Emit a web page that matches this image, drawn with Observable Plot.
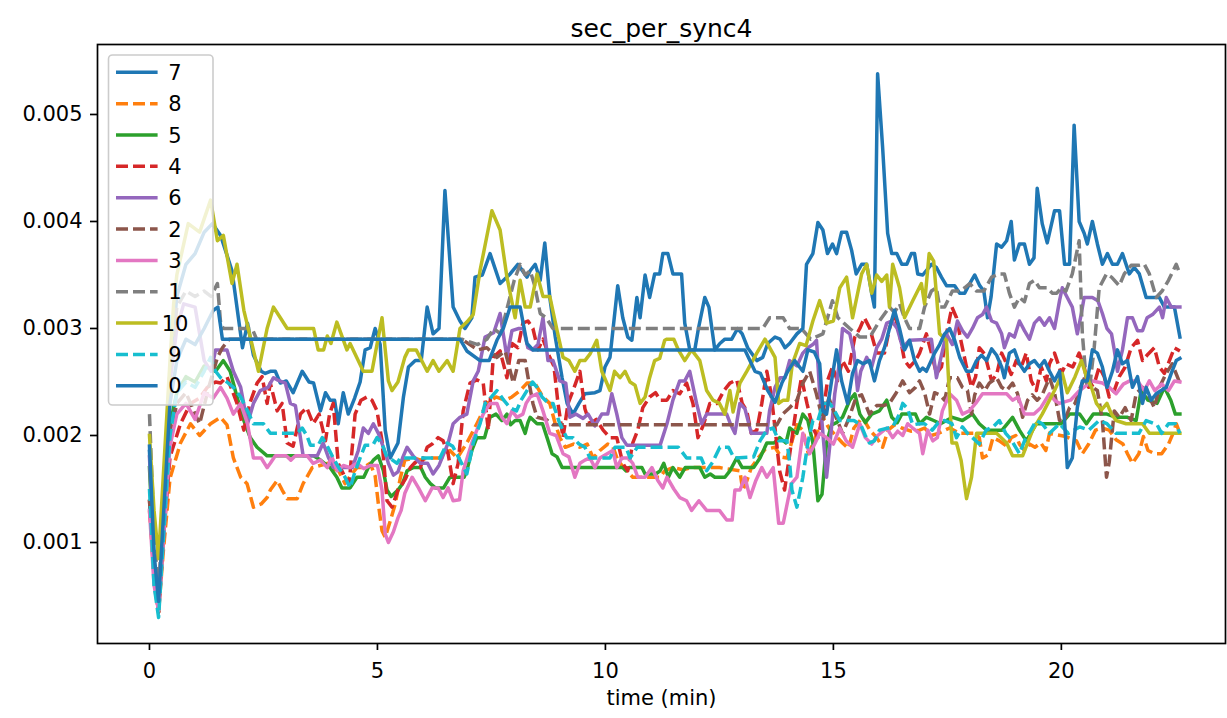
<!DOCTYPE html>
<html><head><meta charset="utf-8">
<script src="https://cdn.jsdelivr.net/npm/d3@7"></script>
<script src="https://cdn.jsdelivr.net/npm/@observablehq/plot@0.6"></script>
<style>body{margin:0;background:#fff;}</style>
</head><body><div id="chart"></div>
<script>
// legend order = draw order
const labels = ["7","8","5","4","6","2","3","1","10","9","0"];
const colors = ["#1f77b4","#ff7f0e","#2ca02c","#d62728","#9467bd","#8c564b","#e377c2","#7f7f7f","#bcbd22","#17becf","#1f77b4"];
const dashed = [false,true,false,true,false,true,false,true,false,true,false];
const xTicks = [0,5,10,15,20];
const yTicks = [0.001,0.002,0.003,0.004,0.005];
// values: [time (min), sec_per_sync4 in units of 0.001]
const s7 = [[0,1.85],[0.1,0.8],[0.2,0.4],[0.3,1.3],[0.45,2.6],[0.6,3.3],[0.8,3.6],[1.0,3.7],[1.2,3.9],[1.38,3.98],[1.56,3.87],[1.81,3.54],[1.95,3.1],[2.04,2.82],[2.15,3.05],[2.28,2.75],[2.45,2.6],[2.54,2.58],[2.65,2.6],[2.76,2.6],[2.87,2.49],[3.0,2.51],[3.15,2.4],[3.35,2.6],[3.5,2.5],[3.6,2.49],[3.75,2.23],[3.86,2.4],[3.96,2.33],[4.06,2.33],[4.14,2.11],[4.25,2.4],[4.36,2.2],[4.5,2.35],[4.62,2.5],[4.73,2.8],[4.84,2.82],[4.95,3.0],[5.06,2.85],[5.17,2.05],[5.28,1.79],[5.45,1.93],[5.57,2.36],[5.68,2.64],[5.83,2.7],[5.96,2.7],[6.09,3.2],[6.22,2.95],[6.35,3.0],[6.48,4.29],[6.66,3.2],[6.81,3.07],[6.92,3.0],[7.07,3.1],[7.14,3.48],[7.3,3.5],[7.47,3.7],[7.69,3.42],[7.91,3.51],[8.08,3.6],[8.28,3.48],[8.35,3.54],[8.46,3.6],[8.57,3.45],[8.67,3.8],[8.78,3.29],[8.9,2.92],[9.05,2.54],[9.16,2.3],[9.29,2.2],[9.42,2.3],[9.55,2.39],[9.77,2.4],[9.88,2.42],[9.99,2.64],[10.1,2.73],[10.27,3.4],[10.38,3.1],[10.49,2.92],[10.58,2.89],[10.69,3.29],[10.76,3.1],[10.87,3.5],[10.97,3.29],[11.08,3.51],[11.19,3.51],[11.26,3.7],[11.37,3.7],[11.48,3.51],[11.67,3.51],[11.74,3.05],[11.85,2.8],[11.96,2.8],[12.04,3.0],[12.18,3.29],[12.27,3.2],[12.4,2.8],[12.51,2.86],[12.62,2.9],[12.77,2.9],[12.9,3.0],[13.0,2.95],[13.12,2.82],[13.32,2.7],[13.45,2.73],[13.56,2.86],[13.72,2.92],[13.83,2.9],[13.94,2.82],[14.04,2.86],[14.2,2.95],[14.33,3.0],[14.41,3.6],[14.55,3.7],[14.66,3.99],[14.77,3.92],[14.87,3.7],[14.98,3.79],[15.07,3.7],[15.18,3.9],[15.29,3.9],[15.4,3.73],[15.5,3.51],[15.62,3.6],[15.73,3.6],[15.84,3.33],[15.9,3.2],[15.97,5.38],[16.08,4.69],[16.19,3.89],[16.28,3.7],[16.39,3.7],[16.5,3.6],[16.61,3.6],[16.71,3.7],[16.78,3.7],[16.85,3.51],[16.96,3.5],[17.15,3.6],[17.26,3.57],[17.37,3.48],[17.48,3.4],[17.66,3.4],[17.77,3.33],[17.88,3.33],[17.99,3.42],[18.1,3.5],[18.21,3.4],[18.3,3.35],[18.38,3.1],[18.46,3.3],[18.58,3.79],[18.69,3.76],[18.8,3.82],[18.9,4.0],[18.97,3.64],[19.08,3.79],[19.19,3.79],[19.3,3.6],[19.4,3.66],[19.47,4.31],[19.58,3.98],[19.69,3.8],[19.85,4.1],[19.96,4.1],[20.07,3.6],[20.18,3.6],[20.28,4.9],[20.39,4.0],[20.5,3.89],[20.57,3.79],[20.68,4.0],[20.79,3.79],[20.9,3.6],[21.01,3.7],[21.12,3.6],[21.23,3.6],[21.34,3.7],[21.49,3.51],[21.6,3.57],[21.71,3.51],[21.86,3.29],[22.15,3.29],[22.26,3.2],[22.48,3.2],[22.6,2.92]];
const s8 = [[0,1.3],[0.1,0.7],[0.2,0.35],[0.3,0.9],[0.45,1.6],[0.68,1.93],[0.9,2.11],[1.1,2.0],[1.34,2.11],[1.56,2.17],[1.7,2.1],[1.84,1.79],[2.0,1.61],[2.14,1.55],[2.28,1.33],[2.45,1.36],[2.58,1.42],[2.65,1.49],[2.8,1.58],[2.91,1.49],[3.02,1.41],[3.24,1.41],[3.37,1.55],[3.57,1.7],[3.92,1.74],[4.03,1.69],[4.15,1.67],[4.29,1.55],[4.4,1.62],[4.55,1.7],[4.69,1.7],[4.84,1.74],[4.95,1.62],[5.02,1.36],[5.1,1.11],[5.17,1.05],[5.28,1.2],[5.39,1.36],[5.5,1.6],[5.6,1.77],[5.8,1.79],[5.95,1.77],[6.09,1.79],[6.4,1.79],[6.59,1.86],[6.75,1.79],[6.96,1.93],[7.18,2.11],[7.4,2.3],[7.6,2.36],[7.8,2.33],[7.95,2.36],[8.13,2.42],[8.28,2.49],[8.45,2.49],[8.63,2.36],[8.78,2.3],[8.9,2.11],[9.0,1.98],[9.12,1.89],[9.3,1.92],[9.44,1.89],[9.6,1.92],[9.73,1.79],[9.88,1.86],[10.05,1.92],[10.16,1.9],[10.27,1.77],[10.4,1.7],[10.6,1.61],[11.2,1.61],[11.3,1.67],[11.48,1.7],[11.7,1.68],[11.9,1.7],[12.5,1.7],[12.95,1.67],[13.01,1.49],[13.08,1.55],[13.2,1.7],[13.35,1.79],[13.5,1.87],[13.72,1.89],[13.85,1.8],[13.98,1.79],[14.08,1.93],[14.2,2.1],[14.33,2.05],[14.45,1.83],[14.55,1.92],[14.77,2.17],[14.9,2.07],[15.05,2.0],[15.2,1.93],[15.33,1.88],[15.45,2.07],[15.64,2.17],[15.8,2.05],[15.95,1.98],[16.08,1.89],[16.2,2.05],[16.34,2.1],[16.5,2.07],[16.7,2.04],[16.89,2.05],[17.0,2.07],[17.15,2.0],[17.3,2.02],[17.55,2.07],[17.77,2.02],[18.1,2.02],[18.2,1.98],[18.27,1.79],[18.4,1.82],[18.5,1.98],[18.64,1.95],[18.8,1.9],[18.9,1.98],[19.0,2.0],[19.08,1.92],[19.19,1.86],[19.3,1.92],[19.42,1.89],[19.55,1.93],[19.66,1.86],[19.74,2.02],[20.1,1.99],[20.33,1.95],[20.46,1.83],[20.6,1.92],[20.75,2.05],[20.9,2.07],[21.05,2.05],[21.2,1.96],[21.35,1.92],[21.45,1.83],[21.56,1.74],[21.7,1.83],[21.8,1.99],[21.9,1.86],[22.05,1.83],[22.2,1.83],[22.35,1.92],[22.45,2.02],[22.52,2.11],[22.6,2.02]];
const s5 = [[0,1.7],[0.1,0.8],[0.2,0.4],[0.3,1.2],[0.45,2.1],[0.6,2.4],[0.8,2.55],[1.0,2.5],[1.2,2.65],[1.45,2.6],[1.62,2.7],[1.77,2.6],[1.92,2.36],[2.07,2.14],[2.21,1.98],[2.36,1.89],[2.58,1.81],[3.6,1.81],[3.75,1.77],[3.96,1.7],[4.11,1.61],[4.22,1.51],[4.4,1.51],[4.55,1.61],[4.7,1.61],[4.8,1.7],[4.91,1.77],[5.02,1.81],[5.13,1.67],[5.21,1.49],[5.3,1.43],[5.45,1.49],[5.55,1.55],[5.65,1.67],[5.78,1.7],[5.95,1.7],[6.05,1.61],[6.16,1.55],[6.27,1.51],[6.45,1.51],[6.59,1.61],[6.9,1.61],[6.96,1.67],[7.07,1.86],[7.18,1.98],[7.35,1.98],[7.47,2.17],[7.6,2.2],[7.73,2.14],[7.84,2.2],[7.92,2.1],[8.02,2.14],[8.13,2.14],[8.24,2.02],[8.3,2.12],[8.35,2.17],[8.5,2.11],[8.62,2.11],[8.72,1.98],[8.83,1.83],[8.94,1.8],[9.05,1.7],[10.38,1.7],[10.45,1.67],[10.52,1.7],[10.8,1.7],[10.87,1.64],[11.1,1.64],[11.2,1.67],[11.28,1.74],[11.38,1.61],[11.48,1.7],[11.63,1.61],[11.75,1.7],[12.07,1.7],[12.18,1.61],[12.3,1.64],[12.4,1.61],[12.62,1.61],[12.73,1.67],[12.88,1.79],[13.0,1.7],[13.25,1.7],[13.39,1.79],[13.54,1.93],[13.7,1.93],[13.82,1.98],[13.96,1.93],[14.04,2.07],[14.2,2.02],[14.33,2.2],[14.44,2.14],[14.55,1.93],[14.66,1.39],[14.75,1.45],[14.85,1.93],[14.96,2.1],[15.07,2.12],[15.2,2.17],[15.36,2.33],[15.47,2.39],[15.58,2.2],[15.7,2.12],[15.84,2.2],[16.01,2.23],[16.17,2.33],[16.28,2.17],[16.4,2.12],[16.5,2.2],[16.63,2.2],[16.8,2.2],[16.89,2.11],[17.04,2.17],[17.2,2.14],[17.35,2.11],[17.48,2.14],[17.61,2.17],[17.83,2.14],[18.05,2.2],[18.2,2.11],[18.36,2.05],[18.7,2.05],[18.93,2.17],[19.08,2.05],[19.23,1.95],[19.33,2.02],[19.45,2.11],[20.0,2.11],[20.18,2.2],[20.4,2.2],[20.55,2.11],[20.7,2.2],[21.0,2.2],[21.2,2.17],[21.45,2.17],[21.64,2.14],[21.75,2.42],[21.9,2.33],[22.1,2.3],[22.26,2.45],[22.4,2.33],[22.5,2.2],[22.6,2.2]];
const s4 = [[0,1.4],[0.1,0.7],[0.2,0.35],[0.3,1.0],[0.45,1.8],[0.68,2.11],[0.9,2.3],[1.1,2.35],[1.27,2.45],[1.45,2.5],[1.56,2.49],[1.7,2.55],[1.92,2.3],[2.07,2.05],[2.2,2.3],[2.36,2.49],[2.47,2.55],[2.58,2.3],[2.65,2.49],[2.8,2.23],[2.91,2.3],[3.02,1.93],[3.15,1.9],[3.31,2.2],[3.45,2.26],[3.59,2.11],[3.72,2.2],[3.86,1.95],[3.95,2.2],[4.03,2.3],[4.14,1.74],[4.29,1.61],[4.38,1.55],[4.51,2.2],[4.64,2.33],[4.77,2.36],[4.88,2.33],[4.99,2.23],[5.1,1.95],[5.21,1.39],[5.32,1.33],[5.45,1.49],[5.55,1.55],[5.62,1.6],[5.72,1.7],[5.83,1.75],[5.94,1.7],[6.09,1.89],[6.2,1.92],[6.33,1.98],[6.44,1.95],[6.55,1.83],[6.66,1.55],[6.77,1.74],[6.88,2.23],[7.03,2.49],[7.18,2.52],[7.32,2.49],[7.43,2.05],[7.54,2.73],[7.69,2.79],[7.84,2.54],[7.95,2.86],[8.08,2.82],[8.19,3.05],[8.3,3.07],[8.41,3.0],[8.52,2.8],[8.63,2.9],[8.78,2.73],[8.87,2.65],[8.96,2.3],[9.07,1.98],[9.18,2.3],[9.29,2.42],[9.44,2.6],[9.55,2.25],[9.66,2.11],[9.8,2.15],[9.95,2.05],[10.1,1.98],[10.25,1.98],[10.38,1.74],[10.49,1.67],[10.6,1.93],[10.71,2.05],[10.82,2.26],[10.97,2.36],[11.1,2.4],[11.2,2.33],[11.35,2.33],[11.48,2.42],[11.63,2.39],[11.78,2.49],[11.92,2.3],[12.03,1.98],[12.15,2.1],[12.29,2.3],[12.45,2.3],[12.6,2.42],[12.73,2.49],[12.88,2.52],[13.0,2.3],[13.1,2.23],[13.2,2.02],[13.32,2.05],[13.43,2.3],[13.54,2.6],[13.63,2.4],[13.72,2.07],[13.82,1.67],[13.93,1.49],[14.0,1.7],[14.1,2.0],[14.2,2.3],[14.3,2.54],[14.42,2.3],[14.55,2.07],[14.66,1.98],[14.77,2.2],[14.87,2.51],[14.98,2.64],[15.09,2.51],[15.2,2.7],[15.33,2.6],[15.47,2.92],[15.58,3.0],[15.68,3.1],[15.8,3.0],[15.95,2.77],[16.12,2.77],[16.23,3.0],[16.34,3.14],[16.45,2.95],[16.56,2.7],[16.67,2.64],[16.8,2.7],[16.89,2.77],[17.04,2.95],[17.15,2.77],[17.26,2.58],[17.37,2.64],[17.48,2.95],[17.6,3.2],[17.7,3.1],[17.8,2.88],[17.92,2.64],[18.03,2.45],[18.12,2.55],[18.2,2.82],[18.32,2.76],[18.47,2.51],[18.58,2.57],[18.69,2.77],[18.8,2.67],[18.9,2.57],[19.01,2.7],[19.12,2.64],[19.23,2.77],[19.34,2.51],[19.45,2.42],[19.56,2.64],[19.67,2.51],[19.74,2.67],[19.85,2.77],[20.0,2.58],[20.1,2.67],[20.25,2.64],[20.39,2.77],[20.5,2.64],[20.6,2.45],[20.72,2.48],[20.83,2.64],[20.94,2.55],[21.05,2.36],[21.16,2.42],[21.27,2.55],[21.4,2.64],[21.53,2.82],[21.67,2.89],[21.78,2.7],[21.9,2.76],[22.04,2.82],[22.15,2.64],[22.26,2.58],[22.37,2.7],[22.48,2.82],[22.6,2.79]];
const s6 = [[0,1.8],[0.1,0.8],[0.2,0.4],[0.3,1.3],[0.45,2.5],[0.6,3.0],[0.75,3.23],[1.0,3.2],[1.2,2.7],[1.35,2.6],[1.45,2.8],[1.56,2.8],[1.7,2.8],[1.84,2.6],[2.0,2.45],[2.15,2.11],[2.28,2.3],[2.43,2.42],[2.6,2.45],[2.72,2.54],[2.8,2.52],[2.98,2.49],[3.09,2.3],[3.2,2.28],[3.31,1.98],[3.37,1.81],[3.68,1.81],[3.81,1.93],[3.92,1.8],[4.03,1.7],[4.45,1.7],[4.58,1.86],[4.69,2.07],[4.8,2.02],[4.91,2.11],[5.02,2.02],[5.13,1.89],[5.24,1.74],[5.35,1.63],[5.45,1.66],[5.56,1.8],[5.65,1.89],[5.8,1.8],[5.94,1.74],[6.1,1.74],[6.22,1.64],[6.35,1.72],[6.55,1.93],[6.66,2.11],[6.81,2.17],[6.96,2.2],[7.1,2.51],[7.21,2.6],[7.36,2.92],[7.55,2.96],[7.69,3.14],[7.84,2.73],[7.95,2.98],[8.1,3.0],[8.2,3.0],[8.3,2.82],[8.4,2.8],[8.52,2.85],[8.63,3.1],[8.74,2.7],[8.85,2.7],[9.0,2.51],[9.13,2.49],[9.22,2.17],[9.35,2.2],[9.51,2.16],[9.62,2.2],[9.77,2.09],[9.92,2.2],[10.05,2.2],[10.14,2.39],[10.25,2.2],[10.36,1.98],[10.47,1.91],[11.2,1.91],[11.35,2.11],[11.48,2.33],[11.63,2.51],[11.74,2.51],[11.85,2.6],[12.0,2.3],[12.11,2.11],[12.22,2.2],[12.5,2.2],[12.66,2.2],[12.75,2.1],[12.84,2.02],[12.95,2.3],[13.06,2.25],[13.2,2.02],[13.54,2.02],[13.6,2.23],[13.72,2.45],[13.83,2.54],[13.94,2.54],[14.04,2.7],[14.2,2.65],[14.33,2.77],[14.44,2.82],[14.55,2.85],[14.63,2.89],[14.7,2.39],[14.77,2.02],[14.85,1.61],[14.92,1.9],[15.03,2.39],[15.14,2.7],[15.2,3.0],[15.36,2.95],[15.45,2.78],[15.53,2.42],[15.6,2.6],[15.73,2.73],[15.84,2.64],[15.95,2.82],[16.06,2.9],[16.17,3.05],[16.28,3.07],[16.4,3.0],[16.52,2.82],[16.67,2.89],[17.15,2.9],[17.26,2.54],[17.37,2.75],[17.48,2.95],[17.61,2.85],[17.72,3.07],[17.83,2.98],[17.94,2.92],[18.05,3.0],[18.16,3.1],[18.27,3.13],[18.36,3.2],[18.47,3.07],[18.58,3.05],[18.69,2.95],[18.75,2.82],[18.86,2.95],[18.97,2.92],[19.08,3.07],[19.19,2.98],[19.3,2.9],[19.41,3.05],[19.52,3.1],[19.63,3.03],[19.74,3.1],[19.85,3.0],[19.96,3.26],[20.02,3.38],[20.13,3.29],[20.24,3.2],[20.35,2.95],[20.42,3.1],[20.5,3.29],[20.68,3.29],[20.8,3.26],[20.9,3.14],[21.0,3.0],[21.1,2.95],[21.16,2.8],[21.23,2.6],[21.34,2.8],[21.45,3.1],[21.56,3.1],[21.67,2.98],[21.78,2.98],[21.88,3.1],[22.0,3.13],[22.15,3.2],[22.22,3.1],[22.3,3.29],[22.41,3.2],[22.6,3.2]];
const s2 = [[0,1.4],[0.1,0.7],[0.2,0.35],[0.3,1.1],[0.45,2.0],[0.6,2.3],[0.8,2.4],[1.0,2.2],[1.1,2.11],[1.3,2.45],[1.49,2.73],[1.6,2.82],[1.75,2.9],[6.85,2.9],[7.2,2.8],[7.4,2.82],[7.62,2.73],[7.8,2.79],[7.98,2.49],[8.1,2.7],[8.24,2.7],[8.3,2.55],[8.41,2.3],[8.5,2.17],[8.7,2.15],[8.85,2.1],[13.76,2.1],[13.89,2.2],[14.04,2.26],[14.2,2.33],[14.33,2.49],[14.48,2.6],[14.62,2.4],[14.77,2.14],[14.9,2.35],[15.03,2.2],[15.2,2.02],[15.33,2.15],[15.5,2.36],[15.62,2.38],[15.79,2.2],[15.95,2.28],[16.1,2.28],[16.23,2.3],[16.38,2.4],[16.52,2.51],[16.67,2.4],[16.8,2.45],[16.89,2.51],[17.0,2.4],[17.11,2.2],[17.22,2.4],[17.33,2.38],[17.44,2.33],[17.55,2.54],[17.72,2.54],[17.83,2.45],[17.94,2.42],[18.03,2.2],[18.1,2.38],[18.2,2.49],[18.32,2.42],[18.42,2.49],[18.58,2.54],[18.69,2.45],[18.8,2.42],[18.93,2.49],[19.04,2.39],[19.15,2.17],[19.26,2.33],[19.36,2.38],[19.47,2.33],[19.58,2.38],[19.69,2.49],[19.74,2.54],[19.85,2.4],[19.96,2.14],[20.07,2.14],[20.18,2.26],[20.3,2.3],[20.42,2.45],[20.55,2.58],[20.68,2.45],[20.79,2.42],[20.9,2.14],[20.99,1.61],[21.05,1.75],[21.16,2.23],[21.27,2.17],[21.4,2.26],[21.53,2.14],[21.64,2.39],[21.78,2.45],[21.93,2.36],[22.04,2.26],[22.15,2.45],[22.3,2.58],[22.43,2.67],[22.6,2.49]];
const s3 = [[0,1.3],[0.1,0.6],[0.2,0.36],[0.3,1.0],[0.45,1.9],[0.6,2.2],[0.8,2.3],[1.0,2.15],[1.2,2.4],[1.4,2.35],[1.56,2.45],[1.7,2.35],[1.84,2.2],[2.0,2.3],[2.15,2.11],[2.28,1.79],[2.45,1.79],[2.58,1.7],[2.65,1.74],[2.76,1.81],[3.0,1.81],[3.1,1.77],[3.2,1.81],[3.46,1.81],[3.59,1.74],[3.75,1.77],[3.9,1.7],[4.0,1.8],[4.12,1.67],[4.25,1.72],[4.4,1.7],[4.55,1.74],[4.7,1.69],[4.84,1.72],[5.0,1.72],[5.1,1.49],[5.17,1.08],[5.24,1.0],[5.35,1.1],[5.45,1.23],[5.52,1.3],[5.6,1.46],[5.76,1.61],[5.9,1.51],[6.05,1.39],[6.2,1.51],[6.33,1.51],[6.44,1.42],[6.55,1.51],[6.66,1.39],[6.8,1.4],[6.88,1.67],[7.07,1.93],[7.18,2.05],[7.32,2.2],[7.47,2.3],[7.62,2.3],[7.73,2.17],[7.84,2.11],[7.95,2.23],[8.06,2.17],[8.19,2.2],[8.26,2.3],[8.35,2.36],[8.5,2.39],[8.63,2.23],[8.78,2.02],[8.92,2.0],[9.07,1.83],[9.2,1.8],[9.33,1.61],[9.44,1.74],[9.55,1.77],[9.66,1.79],[9.77,1.7],[9.88,1.79],[10.16,1.86],[10.25,1.7],[10.36,1.79],[10.5,1.79],[10.6,1.74],[10.71,1.61],[10.87,1.61],[11.02,1.7],[11.15,1.58],[11.26,1.51],[11.35,1.61],[11.5,1.5],[11.63,1.42],[11.78,1.39],[11.89,1.3],[12.05,1.39],[12.22,1.3],[12.5,1.3],[12.66,1.21],[12.78,1.21],[12.84,1.49],[12.95,1.49],[13.06,1.61],[13.17,1.42],[13.3,1.58],[13.43,1.7],[13.54,1.61],[13.68,1.7],[13.8,1.18],[13.9,1.18],[14.0,1.39],[14.08,1.55],[14.2,1.61],[14.33,2.02],[14.48,1.83],[14.59,1.92],[14.7,2.02],[14.85,1.98],[15.0,1.92],[15.14,2.07],[15.28,1.95],[15.42,1.89],[15.58,2.11],[15.7,1.98],[15.84,1.92],[15.97,2.0],[16.17,2.07],[16.3,1.98],[16.41,2.04],[16.52,2.0],[16.63,2.11],[16.74,2.07],[16.89,2.02],[16.96,1.83],[17.07,2.05],[17.18,1.95],[17.28,1.98],[17.39,2.23],[17.55,2.39],[17.7,2.33],[17.83,2.2],[17.98,2.23],[18.12,2.3],[18.27,2.39],[18.6,2.39],[18.8,2.39],[18.93,2.33],[19.05,2.36],[19.19,2.2],[19.4,2.2],[19.55,2.26],[19.74,2.39],[19.85,2.33],[19.96,2.3],[20.2,2.33],[20.4,2.42],[20.68,2.51],[20.9,2.49],[21.05,2.45],[21.2,2.39],[21.36,2.48],[21.5,2.51],[21.67,2.51],[21.82,2.42],[21.93,2.51],[22.05,2.42],[22.2,2.48],[22.35,2.42],[22.48,2.51],[22.6,2.5]];
const s1 = [[0,2.2],[0.1,1.1],[0.2,0.5],[0.3,1.4],[0.45,2.6],[0.6,3.2],[0.8,3.35],[1.0,3.3],[1.2,3.35],[1.35,3.3],[1.49,3.42],[1.56,3.05],[1.62,3.0],[2.25,3.0],[2.35,2.9],[6.85,2.9],[7.2,2.85],[7.4,2.9],[7.55,3.0],[7.7,2.95],[7.85,3.2],[8.0,3.45],[8.13,3.6],[8.24,3.5],[8.35,3.54],[8.45,3.4],[8.57,3.14],[8.7,3.1],[8.85,3.0],[13.45,3.0],[13.6,3.1],[13.9,3.1],[14.04,3.0],[14.3,3.0],[14.5,2.9],[14.77,2.95],[14.98,3.26],[15.1,3.1],[15.36,3.0],[15.58,2.92],[15.8,2.92],[16.01,3.07],[16.23,3.2],[16.34,3.15],[16.45,3.23],[16.56,3.1],[16.67,3.0],[16.89,3.0],[17.0,3.2],[17.15,3.35],[17.26,3.38],[17.33,3.2],[17.44,3.2],[17.61,3.35],[17.77,3.35],[17.88,3.38],[17.99,3.42],[18.14,3.35],[18.3,3.35],[18.47,3.48],[18.64,3.51],[18.75,3.51],[18.86,3.33],[18.97,3.2],[19.08,3.29],[19.19,3.25],[19.3,3.42],[19.41,3.45],[19.52,3.38],[19.69,3.38],[19.8,3.33],[19.9,3.33],[20.0,3.38],[20.1,3.35],[20.24,3.51],[20.39,3.82],[20.46,2.95],[20.55,2.49],[20.62,2.45],[20.72,2.82],[20.83,3.38],[20.99,3.51],[21.1,3.48],[21.27,3.4],[21.38,3.51],[21.53,3.59],[21.7,3.59],[21.82,3.6],[21.93,3.51],[22.08,3.29],[22.21,3.35],[22.35,3.45],[22.52,3.6],[22.6,3.51]];
const s10 = [[0,2.0],[0.1,1.3],[0.2,0.85],[0.3,1.6],[0.45,2.7],[0.53,3.23],[0.6,3.5],[0.85,3.98],[1.1,3.9],[1.34,4.2],[1.49,3.82],[1.62,3.87],[1.81,3.42],[1.92,3.6],[2.07,3.17],[2.39,2.6],[2.58,3.0],[2.72,3.2],[2.87,3.1],[3.02,3.0],[3.6,3.0],[3.7,2.8],[3.82,2.8],[3.9,2.93],[3.98,2.86],[4.11,3.06],[4.33,2.8],[4.4,2.86],[4.69,2.6],[4.88,2.6],[5.1,3.1],[5.24,2.51],[5.32,2.42],[5.45,2.5],[5.6,2.73],[5.68,2.8],[5.85,2.8],[6.09,2.6],[6.22,2.7],[6.35,2.6],[6.53,2.7],[6.66,2.6],[6.81,3.0],[6.96,3.06],[7.1,3.13],[7.25,3.54],[7.51,4.1],[7.69,3.92],[7.84,3.48],[8.02,3.1],[8.13,3.45],[8.24,3.2],[8.35,3.2],[8.5,3.51],[8.63,3.3],[8.78,3.3],[8.94,2.98],[9.07,2.73],[9.2,2.7],[9.33,2.6],[9.44,2.7],[9.55,2.7],[9.66,2.76],[9.81,2.89],[9.92,2.6],[10.1,2.42],[10.2,2.6],[10.32,2.54],[10.43,2.6],[10.54,2.5],[10.65,2.47],[10.76,2.3],[10.87,2.36],[10.97,2.54],[11.08,2.7],[11.19,2.72],[11.3,2.89],[11.35,2.9],[11.5,2.9],[11.6,2.8],[11.74,2.7],[11.89,2.8],[12.07,2.7],[12.22,2.42],[12.36,2.33],[12.5,2.3],[12.62,2.2],[12.73,2.42],[12.8,2.22],[12.95,2.49],[13.1,2.6],[13.32,2.77],[13.5,2.9],[13.72,2.73],[13.8,2.3],[13.9,2.33],[14.0,2.33],[14.1,2.67],[14.26,2.86],[14.4,2.84],[14.55,3.07],[14.7,3.26],[14.85,3.05],[15.0,3.07],[15.14,3.38],[15.29,3.48],[15.42,3.1],[15.62,3.51],[15.73,3.6],[15.84,3.33],[15.95,3.5],[16.06,3.44],[16.17,3.5],[16.23,3.2],[16.3,3.6],[16.45,3.38],[16.56,3.1],[16.74,3.26],[16.93,3.42],[17.0,3.23],[17.1,3.7],[17.2,3.63],[17.33,2.95],[17.48,2.89],[17.6,1.93],[17.7,1.93],[17.8,1.77],[17.92,1.41],[18.03,1.61],[18.14,2.02],[18.58,2.02],[18.8,1.93],[18.93,1.81],[19.15,1.81],[19.37,2.05],[19.58,2.2],[19.74,2.33],[19.85,2.42],[20.02,2.58],[20.13,2.4],[20.3,2.55],[20.44,2.7],[20.55,2.55],[20.66,2.45],[20.77,2.3],[20.88,2.24],[21.0,2.3],[21.1,2.2],[21.2,2.14],[21.42,2.11],[21.78,2.11],[21.93,2.02],[22.6,2.02]];
const s9 = [[0,1.5],[0.1,0.6],[0.2,0.3],[0.3,1.0],[0.45,2.0],[0.6,2.4],[0.8,2.5],[1.0,2.45],[1.2,2.6],[1.34,2.73],[1.45,2.6],[1.56,2.54],[1.7,2.5],[1.84,2.45],[2.0,2.36],[2.15,2.23],[2.28,2.11],[2.5,2.11],[2.65,2.02],[3.24,2.02],[3.35,2.07],[3.45,2.0],[3.53,1.91],[3.7,1.91],[3.79,1.98],[3.9,1.9],[4.03,1.79],[4.15,1.7],[4.29,1.61],[4.4,1.51],[4.5,1.65],[4.62,1.79],[4.73,1.91],[4.9,1.91],[4.99,1.98],[5.1,1.92],[5.2,1.81],[5.3,1.78],[5.43,1.74],[5.5,1.79],[6.37,1.79],[6.53,1.93],[6.65,1.9],[6.81,1.77],[6.96,1.64],[7.1,1.93],[7.25,2.11],[7.36,2.3],[7.5,2.36],[7.62,2.42],[7.77,2.33],[7.91,2.26],[8.05,2.23],[8.15,2.33],[8.28,2.42],[8.4,2.5],[8.5,2.45],[8.61,2.36],[8.75,2.3],[8.85,2.3],[9.0,2.11],[9.15,1.98],[9.29,1.98],[9.42,1.92],[9.55,1.89],[9.66,1.79],[10.1,1.79],[10.21,1.89],[10.45,1.89],[10.54,1.79],[10.7,1.89],[11.2,1.89],[11.6,1.89],[11.78,1.79],[12.1,1.79],[12.22,1.67],[12.35,1.75],[12.51,1.89],[12.7,1.89],[12.82,1.79],[13.25,1.8],[13.39,1.95],[13.54,2.05],[13.68,2.07],[13.8,1.95],[13.98,1.95],[14.04,1.75],[14.09,1.49],[14.2,1.33],[14.33,1.61],[14.44,1.93],[14.55,2.14],[14.66,2.14],[14.77,2.3],[14.92,2.3],[15.0,2.25],[15.14,2.14],[15.45,2.14],[15.6,2.1],[15.7,2.0],[15.79,1.93],[15.9,1.95],[16.01,2.05],[16.3,2.08],[16.45,2.2],[16.52,2.3],[16.63,2.25],[16.74,2.1],[16.89,2.11],[17.0,2.11],[17.17,2.05],[17.3,2.12],[17.44,2.14],[17.6,2.11],[17.7,1.98],[17.83,2.08],[17.94,2.02],[18.05,1.98],[18.2,1.92],[18.35,2.05],[18.5,2.08],[18.64,2.14],[18.78,2.02],[18.9,1.96],[19.08,1.83],[19.2,1.96],[19.33,2.05],[19.45,2.14],[19.58,2.11],[19.74,2.02],[19.96,2.11],[20.15,2.02],[20.4,2.08],[20.6,2.05],[20.83,2.14],[21.0,2.11],[21.2,2.02],[21.5,2.02],[21.7,2.02],[21.86,2.14],[22.1,2.1],[22.2,2.02],[22.35,2.11],[22.5,2.11],[22.6,2.02]];
const s0 = [[0,1.9],[0.1,0.9],[0.2,0.45],[0.3,1.2],[0.45,2.3],[0.6,2.7],[0.8,2.9],[1.0,2.85],[1.2,3.0],[1.4,3.17],[1.5,3.2],[1.6,2.9],[6.81,2.9],[6.96,2.79],[7.25,2.7],[7.45,2.7],[7.62,2.89],[7.76,3.0],[7.91,3.2],[8.13,3.2],[8.28,2.86],[8.41,2.8],[13.06,2.8],[13.28,2.6],[13.4,2.58],[13.56,2.42],[13.72,2.31],[13.87,2.49],[14.0,2.6],[14.15,2.7],[14.33,2.6],[14.44,2.8],[14.58,2.78],[14.7,2.67],[14.77,2.23],[14.85,2.2],[14.96,2.51],[15.07,2.8],[15.18,2.51],[15.31,2.3],[15.42,2.58],[15.53,2.7],[15.65,2.67],[15.79,2.7],[15.9,2.51],[16.01,2.7],[16.12,2.82],[16.23,3.0],[16.34,3.17],[16.45,3.0],[16.56,2.8],[16.67,2.89],[16.78,2.7],[16.89,2.6],[16.96,2.63],[17.04,2.6],[17.22,2.77],[17.33,2.85],[17.44,2.95],[17.55,3.0],[17.66,2.89],[17.77,2.73],[17.92,2.6],[18.03,2.6],[18.14,2.7],[18.25,2.75],[18.36,2.7],[18.47,2.81],[18.58,2.75],[18.69,2.64],[18.75,2.54],[18.86,2.77],[18.97,2.8],[19.08,2.67],[19.19,2.6],[19.3,2.67],[19.41,2.7],[19.52,2.64],[19.63,2.7],[19.74,2.6],[19.85,2.51],[19.96,2.6],[20.07,2.14],[20.13,1.7],[20.24,1.79],[20.35,2.26],[20.46,2.51],[20.57,2.51],[20.68,2.8],[20.79,2.77],[20.9,2.64],[21.0,2.45],[21.12,2.6],[21.23,2.8],[21.34,2.67],[21.45,2.7],[21.56,2.45],[21.67,2.55],[21.78,2.3],[21.86,2.45],[21.97,2.33],[22.08,2.39],[22.19,2.42],[22.3,2.45],[22.41,2.58],[22.52,2.7],[22.6,2.72]];

const seriesValues = [s7, s8, s5, s4, s6, s2, s3, s1, s10, s9, s0];
const tables = seriesValues.map((s, i) => s.map(([t, v]) => ({series: labels[i], t, v: v / 1000})));

const LW = 3.5;
const DASH = "12,5";
const lineMarks = tables.map((tbl, i) => Plot.line(tbl, {
  x: "t", y: "v", stroke: colors[i], strokeWidth: LW,
  strokeDasharray: dashed[i] ? DASH : null,
  strokeLinejoin: "round", strokeLinecap: dashed[i] ? "butt" : "square"
}));

const plot = Plot.plot({
  width: 1227, height: 718,
  marginLeft: 97, marginRight: 2, marginTop: 44, marginBottom: 75,
  style: {fontFamily: "'DejaVu Sans', sans-serif", fontSize: "21px", color: "black", background: "white"},
  x: {domain: [-1.14, 23.6]},
  y: {domain: [0.0000561, 0.005654]},
  marks: [
    ...lineMarks,
    Plot.frame({stroke: "black", strokeWidth: 1.7}),
    Plot.axisX({ticks: xTicks, tickSize: 7, tickPadding: 13, strokeWidth: 1.7, label: null, tickFormat: d => String(d)}),
    Plot.axisY({ticks: yTicks, tickSize: 7, tickPadding: 8, strokeWidth: 1.7, label: null, tickFormat: d3.format(".3f")}),
    Plot.text(["sec_per_sync4"], {text: d => d, frameAnchor: "top", dy: -25, fontSize: 25}),
    Plot.text(["time (min)"], {text: d => d, frameAnchor: "bottom", dy: 61, fontSize: 21})
  ]
});
document.getElementById("chart").appendChild(plot);

// matplotlib-style legend inside the frame (upper left)
const svg = d3.select(plot);
const lg = svg.append("g").attr("font-family", "'DejaVu Sans', sans-serif").attr("font-size", 21);
lg.append("rect").attr("x", 108.5).attr("y", 55).attr("width", 104.5).attr("height", 350)
  .attr("rx", 4).attr("fill", "white").attr("fill-opacity", 0.8)
  .attr("stroke", "#cccccc").attr("stroke-width", 1.6);
labels.forEach((lab, i) => {
  const y = 72.3 + i * 31.35;
  lg.append("line").attr("x1", 116).attr("x2", 157.6).attr("y1", y).attr("y2", y)
    .attr("stroke", colors[i]).attr("stroke-width", LW)
    .attr("stroke-dasharray", dashed[i] ? DASH : null);
  lg.append("text").attr("x", 175).attr("y", y).attr("dy", "0.36em").attr("fill", "black").text(lab);
});
</script>
</body></html>
